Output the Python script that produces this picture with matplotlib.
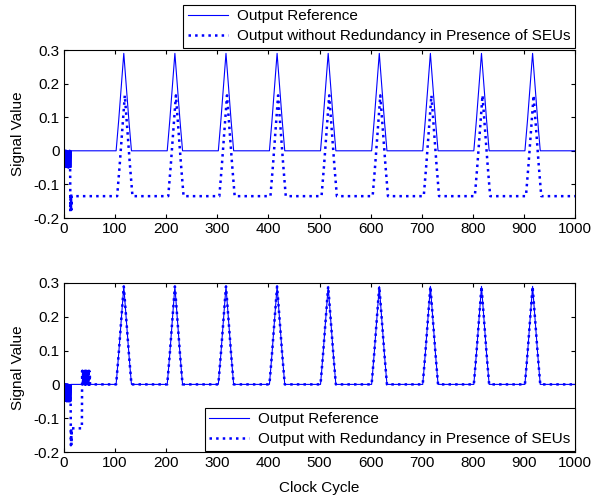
import numpy as np
import matplotlib
matplotlib.use("Agg")
import matplotlib.pyplot as plt

plt.rcParams["font.family"] = ["Liberation Sans", "DejaVu Sans"]
plt.rcParams["font.size"] = 11

# ---------- data ----------
peak_centers = [117, 217, 317, 417, 517, 617, 717, 817, 917]
pulse_offsets = [-15, -10, -5, 0, 5, 10, 15]
pulse_shape = [0.0, 0.09, 0.19, 0.29, 0.19, 0.09, 0.0]      # reference pulse
seu_delay = 2                                                # dotted pulse lag

# start-up ringing (clock cycle / value)
ring_x = [0, 0.5, 1, 1.5, 2, 2.5, 3, 3.5, 4, 4.5, 5, 5.5, 6, 6.5, 7, 7.5,
          8, 8.5, 9, 9.5, 10, 10.5, 11, 11.5, 12, 12.5, 13, 13.5, 14]
ring_y = [0, -0.05, -0.01, -0.05, 0, -0.045, -0.005, -0.05, 0, -0.05,
          -0.01, -0.05, 0, -0.045, 0, -0.05, -0.005, -0.05, 0, -0.045,
          -0.01, -0.05, 0, -0.05, -0.005, -0.045, 0, -0.05, 0]

# top: no redundancy, output sits at an offset
top_base = -0.135
top_peak = 0.165
top_drop_x = [12, 12.5, 13, 13.5, 14, 14.5, 15]
top_drop_y = [-0.05, -0.18, -0.13, -0.18, -0.13, -0.175, -0.135]

# bottom: with redundancy, recovers to the reference
bot_drop_x = [13, 13.5, 14, 14.5, 15, 35]
bot_drop_y = [-0.05, -0.18, -0.13, -0.18, -0.13, -0.13]
bot_bump_x = [35.5, 36, 36.5, 37, 37.5, 38, 38.5, 39, 39.5, 40, 40.5, 41,
              41.5, 42, 42.5, 43, 43.5, 44, 44.5, 45, 45.5, 46, 46.5, 47,
              47.5, 48, 48.5, 49, 49.5, 50, 50.5, 51, 52]
bot_bump_y = [0.04, 0.0, 0.04, 0.005, 0.04, 0.0, 0.035, 0.005, 0.04, 0.0,
              0.04, 0.005, 0.035, 0.0, 0.04, 0.0, 0.04, 0.005, 0.04, 0.0,
              0.035, 0.005, 0.04, 0.0, 0.04, 0.005, 0.035, 0.0, 0.04, 0.0,
              0.03, 0.0, 0.0]

x_end = 1000
xticks = [0, 100, 200, 300, 400, 500, 600, 700, 800, 900, 1000]
yticks = [-0.2, -0.1, 0, 0.1, 0.2, 0.3]
ytick_labels = ["-0.2", "-0.1", "0", "0.1", "0.2", "0.3"]


def pulse_train(base, peak, lag):
    xs, ys = [], []
    amp = peak - base
    for c in peak_centers:
        for o, s in zip(pulse_offsets, pulse_shape):
            xs.append(c + lag + o)
            ys.append(base + s / max(pulse_shape) * amp)
    return xs, ys


# reference
px, py = pulse_train(0.0, 0.29, 0)
ref_x = ring_x + [15] + px + [x_end]
ref_y = ring_y + [0] + py + [0]

# top dotted
tx, ty = pulse_train(top_base, top_peak, seu_delay)
top_x = ring_x[:24] + top_drop_x + tx + [x_end]
top_y = ring_y[:24] + top_drop_y + ty + [top_base]

# bottom dotted
bx, by = pulse_train(0.0, 0.29, 0)
bot_x = ring_x[:26] + bot_drop_x + bot_bump_x + bx + [x_end]
bot_y = ring_y[:26] + bot_drop_y + bot_bump_y + by + [0]

fig = plt.figure(figsize=(6.04, 4.98), dpi=100)
ax1 = fig.add_axes([64 / 604, 1 - 218 / 498, 511 / 604, 168 / 498])
ax2 = fig.add_axes([64 / 604, 1 - 452 / 498, 511 / 604, 169 / 498])

ax1.plot(ref_x, ref_y, color="blue", lw=0.8, label="Output Reference")
ax1.plot(top_x, top_y, color="blue", lw=1.8, ls=":",
         label="Output without Redundancy in Presence of SEUs")
ax2.plot(ref_x, ref_y, color="blue", lw=0.8, label="Output Reference")
ax2.plot(bot_x, bot_y, color="blue", lw=1.8, ls=":",
         label="Output with Redundancy in Presence of SEUs")

for ax in (ax1, ax2):
    ax.set_xlim(0, 1000)
    ax.set_ylim(-0.2, 0.3)
    ax.set_xticks(xticks)
    ax.set_yticks(yticks)
    ax.set_yticklabels(ytick_labels)
    ax.tick_params(direction="in", top=True, right=True, length=3, width=0.8, pad=3)
    ax.set_ylabel("Signal Value", labelpad=6)
    for s in ax.spines.values():
        s.set_linewidth(0.8)

ax2.set_xlabel("Clock Cycle", labelpad=8)

leg_kw = dict(frameon=True, fancybox=False, framealpha=1, edgecolor="black",
              borderaxespad=0, handlelength=2.6, handletextpad=0.6,
              labelspacing=0.4, borderpad=0.3)
l1 = ax1.legend(loc="lower right", bbox_to_anchor=(1.0, 1.012), **leg_kw)
l2 = ax2.legend(loc="lower right", bbox_to_anchor=(1.0, 0.006), **leg_kw)
for lg in (l1, l2):
    lg.get_frame().set_linewidth(0.8)

fig.savefig("out.png", dpi=100)
